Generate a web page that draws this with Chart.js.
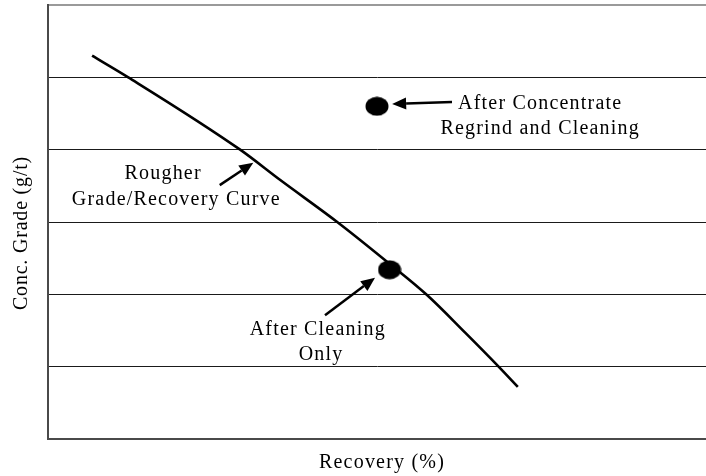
<!DOCTYPE html>
<html><head><meta charset="utf-8">
<script src="https://cdn.jsdelivr.net/npm/chart.js@4.4.1/dist/chart.umd.min.js"></script>
<style>html,body{margin:0;padding:0;background:#fff}#wrap{width:706px;height:476px}</style>
</head><body><div id="wrap"><canvas id="c" width="706" height="476"></canvas></div>
<script>
// Rougher grade/recovery curve (recovery %, grade units)
const curveX = [6.7, 12.2, 29.2, 35.3, 44.1, 51.8, 57.6, 63.4, 68.7, 71.4];
const curveY = [5.30, 5.00, 4.00, 3.58, 2.99, 2.43, 1.99, 1.47, 0.98, 0.72];
// Result points: after regrind & cleaning, after cleaning only
const pointX = [50.0, 51.9];
const pointY = [4.60, 2.34];
// Axis ranges (no tick labels shown)
const xRange = [0, 100];
const yRange = [0, 6];
const yTitle = 'Conc. Grade (g/t)';
const xTitle = 'Recovery (%)';
// Annotation texts (data coords: centre x, baseline y)
const labelText = ['After Concentrate', 'Regrind and Cleaning', 'Rougher', 'Grade/Recovery Curve', 'After Cleaning', 'Only'];
const labelX = [74.8, 74.8, 17.5, 19.5, 41.0, 41.5];
const labelY = [4.56, 4.21, 3.59, 3.235, 1.44, 1.09];
// Arrows (tail -> tip, data coords)
const arrowTail = [[61.4, 4.66], [26.1, 3.51], [42.1, 1.71]];
const arrowTip = [[52.3, 4.63], [31.2, 3.82], [49.7, 2.23]];

function ellipseImg(w, h) {
  const c = document.createElement('canvas');
  c.width = w; c.height = h;
  const g = c.getContext('2d');
  g.fillStyle = '#000';
  g.beginPath();
  g.ellipse(w / 2, h / 2, w / 2 - 0.5, h / 2 - 0.5, 0, 0, Math.PI * 2);
  g.fill();
  return c;
}

const annPlugin = {
  id: 'ann',
  afterDraw(chart) {
    const { ctx, scales: { x, y }, chartArea } = chart;
    ctx.save();
    ctx.fillStyle = '#000';
    ctx.strokeStyle = '#000';
    ctx.font = '20px "Liberation Serif", "Times New Roman", serif';
    ctx.textAlign = 'center';
    ctx.textBaseline = 'alphabetic';
    ctx.letterSpacing = '1.2px';
    labelText.forEach((t, i) => {
      ctx.fillText(t, x.getPixelForValue(labelX[i]), y.getPixelForValue(labelY[i]));
    });
    // arrows
    ctx.lineWidth = 2.5;
    arrowTail.forEach((tl, i) => {
      const x0 = x.getPixelForValue(tl[0]), y0 = y.getPixelForValue(tl[1]);
      const x1 = x.getPixelForValue(arrowTip[i][0]), y1 = y.getPixelForValue(arrowTip[i][1]);
      const ang = Math.atan2(y1 - y0, x1 - x0);
      const hl = 14, hw = 6;
      const bx = x1 - hl * Math.cos(ang), by = y1 - hl * Math.sin(ang);
      ctx.beginPath(); ctx.moveTo(x0, y0); ctx.lineTo(bx, by); ctx.stroke();
      ctx.beginPath();
      ctx.moveTo(x1, y1);
      ctx.lineTo(bx + hw * Math.sin(ang), by - hw * Math.cos(ang));
      ctx.lineTo(bx - hw * Math.sin(ang), by + hw * Math.cos(ang));
      ctx.closePath(); ctx.fill();
    });
    // axis titles
    ctx.fillText(xTitle, 382, chartArea.bottom + 29);
    ctx.letterSpacing = '0.8px';
    ctx.translate(27, (chartArea.top + chartArea.bottom) / 2 + 11);
    ctx.rotate(-Math.PI / 2);
    ctx.fillText(yTitle, 0, 0);
    ctx.restore();
  }
};

new Chart(document.getElementById('c'), {
  type: 'scatter',
  data: {
    datasets: [
      {
        data: curveX.map((v, i) => ({ x: v, y: curveY[i] })),
        showLine: true,
        borderColor: '#000',
        borderWidth: 2.6,
        pointRadius: 0,
        cubicInterpolationMode: 'monotone'
      },
      {
        data: pointX.map((v, i) => ({ x: v, y: pointY[i] })),
        pointStyle: ellipseImg(24, 20),
        pointRadius: 11,
        backgroundColor: '#000',
        borderColor: '#000'
      }
    ]
  },
  options: {
    responsive: false,
    animation: false,
    devicePixelRatio: 1,
    layout: { autoPadding: false, padding: { left: 48, top: 5, right: 0, bottom: 37 } },
    plugins: { legend: { display: false }, tooltip: { enabled: false } },
    scales: {
      x: {
        type: 'linear', min: xRange[0], max: xRange[1],
        ticks: { display: false },
        grid: { display: false, drawTicks: false },
        border: { display: true, color: '#4a4a4a', width: 2 }
      },
      y: {
        type: 'linear', min: yRange[0], max: yRange[1],
        ticks: { display: false, stepSize: 1 },
        grid: {
          drawTicks: false,
          color: c => c.tick.value === yRange[1] ? '#9a9a9a' : (c.tick.value === yRange[0] ? 'rgba(0,0,0,0)' : '#1a1a1a'),
          lineWidth: c => c.tick.value === yRange[1] ? 2 : 1
        },
        border: { display: true, color: '#4a4a4a', width: 2 }
      }
    }
  },
  plugins: [annPlugin]
});
</script>
</body></html>
